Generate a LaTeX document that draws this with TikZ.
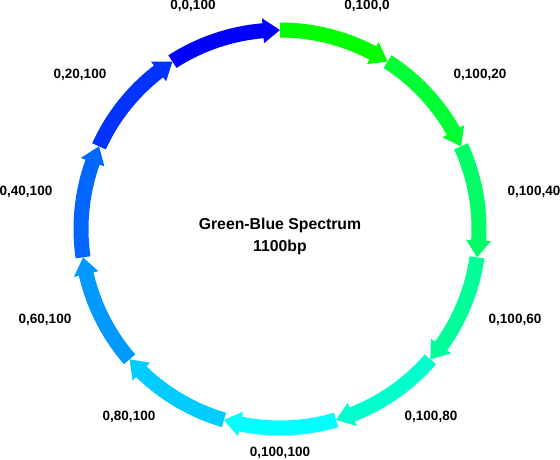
\documentclass[tikz,border=0pt]{standalone}
\usepackage{fontspec}
\setmainfont{Liberation Sans}
\definecolor{cA}{RGB}{0,255,0}
\definecolor{cB}{RGB}{0,255,51}
\definecolor{cC}{RGB}{0,255,102}
\definecolor{cD}{RGB}{0,255,153}
\definecolor{cE}{RGB}{0,255,204}
\definecolor{cF}{RGB}{0,255,255}
\definecolor{cG}{RGB}{0,204,255}
\definecolor{cH}{RGB}{0,153,255}
\definecolor{cI}{RGB}{0,102,255}
\definecolor{cJ}{RGB}{0,51,255}
\definecolor{cK}{RGB}{0,0,255}
\tikzset{
  lbl/.style={font=\fontsize{13.5}{16}\selectfont\bfseries, inner sep=0pt},
  title/.style={font=\fontsize{15.8}{22}\selectfont\bfseries, align=center, inner sep=0pt}
}
\begin{document}
\begin{tikzpicture}[x=1pt,y=-1pt]
\useasboundingbox (0,0) rectangle (560,460);
\def\cx{280}\def\cy{229}
\def\Ro{206.5}\def\Ri{191.5}\def\Rw{211.5}\def\Rv{186.5}\def\Rm{199}
\def\hd{4.9}
\foreach \i/\col in {0/cA,1/cB,2/cC,3/cD,4/cE,5/cF,6/cG,7/cH,8/cI,9/cJ,10/cK}{
  \pgfmathsetmacro{\s}{\i*360/11}
  \pgfmathsetmacro{\e}{(\i+1)*360/11}
  \pgfmathsetmacro{\h}{\e-\hd}
  \fill[\col] plot[domain=\s:\h,samples=30] ({\cx+\Ro*sin(\x)},{\cy-\Ro*cos(\x)})
    -- ({\cx+\Rw*sin(\h)},{\cy-\Rw*cos(\h)})
    -- ({\cx+\Rm*sin(\e)},{\cy-\Rm*cos(\e)})
    -- ({\cx+\Rv*sin(\h)},{\cy-\Rv*cos(\h)})
    -- plot[domain=\h:\s,samples=30] ({\cx+\Ri*sin(\x)},{\cy-\Ri*cos(\x)})
    -- cycle;
}
\node[title] (t) at (280,236) {Green-Blue Spectrum\\1100bp};
\node[lbl] (l0) at (367,6) {0,100,0};
\node[lbl] (l1) at (480,75) {0,100,20};
\node[lbl] (l2) at (534,192) {0,100,40};
\node[lbl] (l3) at (515,320) {0,100,60};
\node[lbl] (l4) at (431,417) {0,100,80};
\node[lbl] (l5) at (280,453) {0,100,100};
\node[lbl] (l6) at (129,417) {0,80,100};
\node[lbl] (l7) at (45,320) {0,60,100};
\node[lbl] (l8) at (26,192) {0,40,100};
\node[lbl] (l9) at (80,75) {0,20,100};
\node[lbl] (l10) at (193,6) {0,0,100};
\end{tikzpicture}
\end{document}
